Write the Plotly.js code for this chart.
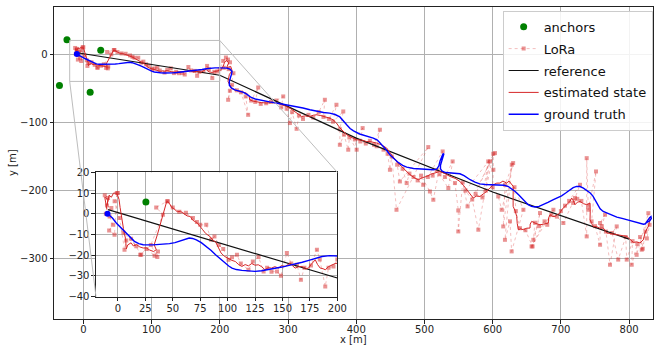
<!DOCTYPE html>
<html><head><meta charset="utf-8">
<script src="https://cdn.plot.ly/plotly-3.0.1.min.js"></script>
<style>html,body{margin:0;padding:0;background:#fff;}</style>
</head><body><div id="chart" style="width:654px;height:345px;"></div>
<script>
// ---------------- data ----------------
const anchorX = [-24, -35, 25.5, 10];
const anchorY = [21, -46, 5.7, -56];

const refX = [-9, 200, 400, 600, 800];
const refY = [2, -31, -123, -202, -271];

const gtX = [-9.5,-5,-1.5,3,7.6,11,15,19,23,32,40,47,52,56,61,65,68,71.5,76,80.5,85,89,93,97,101,104,108,113,119,125,131,137,143,149.5,155,161.6,168,174,180,186,193,200,
205,210,215,218,217,215,214,214,217,222,228,234,240,246,252,263,273,283,293,303,313,322,332,342,352,361,369,376,381,386,391,396,405,415,425,431,436,443,450,456,462,468,474,484,494,504,513,518,521,523,525,527,528.5,527.5,525,523.5,523.5,526,531,537,545,552,558,563,567,574,581,589,596,603,611,617,623,628,633,638,643,648,652,657,662,668,674,681,689,695,701,707,713,718,723,728,733,738,743,747,750,754,757.5,762,767,774,782,791,801,809,816,821,824,827,830,832,832.5,830,826];
const gtY = [0,-2,-4.4,-6.8,-9.3,-11.3,-13.3,-14.4,-14.9,-15,-14.8,-14.4,-13.9,-13.3,-12.3,-11.7,-11.9,-12.6,-13.9,-15.7,-17.7,-19.8,-21.6,-23.6,-25.2,-26.2,-26.9,-27.3,-27.6,-27.8,-27.5,-27,-26.4,-25.7,-25,-24.3,-23.4,-22.5,-21.5,-20.6,-20.2,-20.2,
-20.3,-20.5,-22,-25.4,-30,-35,-40,-45.5,-49.5,-52.3,-54,-55.6,-59,-63.5,-65.7,-68.4,-70,-71.7,-73.3,-75.3,-77.2,-79,-81.5,-84,-85.5,-86.5,-88.5,-92,-97,-103.5,-109,-112.5,-117,-120,-123,-126,-131,-139,-148,-154,-159,-163,-165.5,-167.5,-168.5,-169,-169.3,-168.5,-164,-156,-150,-146.5,-146,-149,-156,-163,-168,-171.5,-173.5,-174.2,-175,-175.3,-178,-181.5,-184,-187.5,-190,-191,-191.3,-191.4,-191.4,-192.2,-194,-197,-201.2,-206,-211,-216.5,-220.6,-223,-224,-223,-220.6,-217.2,-213.3,-210.5,-207.5,-203.5,-198.7,-195.5,-193.8,-194,-196.2,-199.5,-203.5,-208,-213.3,-220,-226.5,-230.5,-232.8,-235.8,-238.7,-241,-243.6,-246,-248.5,-249.2,-248.5,-243.5,-239.5,-238,-241,-244.5,-246.5];

const estX = [-10,-11,-12,-9,-10,-8,-6,-4,-1,1,2,3,4,5,6,7,7.6,9,12,14,17,20,23,26,29,32.5,35,33,36,38,40,41.5,43,44.5,47,49,51,54,57,60,63,66,68,71,74,77,80,84,87,89,91,94,97,101,104,107,110,113,116,119,122,125,128,131,134,137,140,143,146.4,149,152.5,155,157,159,161.6,165,167.7,171,173.7,176,179.9,182,184.4,187,189,192,195,198,201,
205,207,210,213,210,216,218,214,212,215,217,223,229.5,235,239,243,244,249,254,261,268.6,276,283.3,290,298,304,310,315,320,326,332,337,342,348,354,360,366,371,376,381,386,391,396,400.6,408,415,422,430,437,444.6,450,456.7,461,466.6,472,478.7,485,491,497,503.2,509,515.4,522.7,530,537.4,545,552,557,561.9,566,571.5,576,581.4,586,591.2,596,600.9,606,610.6,615,620.5,624,627,630.2,630,630,633,635.2,636,637.6,641,645,650,654.7,655,657.2,663,669.4,675,681.5,682,684,688,691.3,695,698.7,701,703.6,708,713.3,715.8,718,720.7,724,728,733,737.8,742.7,743,742.7,745,747.5,753,757,762.2,765,767.2,774,781.8,789,796.5,801,806.2,811,816,820.8,823.3,826,828.2,830,830.6];
const estY = [2,5,8,7,4,9,8,10,10,7,3,-1,-4,-7,-10,-12,-17,-15,-14,-15.5,-14.9,-16,-16.5,-16.5,-17.5,-18.2,-17.3,-15,-10,-6,-3,0,3,6,5,3,2.5,1,1.2,0,-1,-1.3,-3,-4,-5.5,-7.5,-9.5,-11,-13,-13.5,-16,-18.9,-20.5,-21.8,-22.5,-23,-24.5,-25.4,-24.5,-25.1,-24,-24.8,-24.6,-25.5,-27,-26,-26.2,-25.5,-26.2,-25,-25.4,-24.5,-23.8,-25,-26.2,-25.5,-25.4,-26.5,-26.2,-24.5,-22.2,-24.5,-26.2,-26.5,-27,-25.5,-24.6,-24,-23.8,
-18,-12,-9,-13,-20,-18,-24,-30,-40,-47,-50,-53,-54.8,-55.5,-57,-62,-67,-69,-70.3,-71,-71.7,-71,-71.7,-73.5,-76.7,-80,-84,-88,-91.4,-90.5,-91.4,-89.5,-88.9,-90,-91.4,-93.5,-96.2,-101,-108,-113,-118,-121,-123,-125.5,-126,-128,-128.5,-130.3,-133,-137.6,-145,-154.8,-160,-164.6,-170,-176.7,-181,-184,-181,-179.2,-176,-174.2,-171.9,-175,-179.2,-182,-186.5,-192,-198.7,-205,-210.8,-208,-208.5,-205,-201.2,-196,-191.4,-189,-188.9,-186,-188.9,-186,-190,-193.8,-205,-223,-230,-237.8,-248,-257.2,-256,-257.2,-255,-254.8,-249,-245,-248,-250,-249,-247.4,-240,-235.3,-238,-237.8,-235,-232.8,-228,-225.5,-220,-215.8,-210.8,-214,-220.6,-217,-215.8,-219,-220.6,-218.2,-230,-242.6,-248,-252.4,-253,-255,-254.8,-258,-262,-263,-264.6,-265,-267,-271,-275.8,-275,-276.7,-271.9,-262,-256,-252.4,-245,-238.7];

const loraX = [-12,-9,-10,-6,-11,-7.6,-4.6,-8,-3.1,-1,0,-3,1.5,6,7.6,5,16.7,12,21.2,20.3,26,33.4,36.5,35.9,30,41,34.9,44.7,45.6,50,56,62,68.4,72,75,80.5,85,88,92,96,100.8,104,108.5,112,119,123,128.2,132.8,136,140,145,148.6,154,158,163.2,166.8,170,176,181.4,184,189,192,196.5,200,
205,209,212,215,206,213,220,212.3,214.8,218,225,231,241.6,238,246,256.3,252,260,268,275,283,293,290,298,302.8,306,312.6,316,322,330,337,345,354,352,360,371,366,381,376,376,382,388.3,390,400.6,398,409.4,406,414,420,426,434.7,430,440,446,449.4,452,459,505.6,464,460,468,473.9,478,484,490,498.2,495,508,513,526.7,505,512,518,522,535,541.3,530,544.7,549.6,549.6,556,563.2,603.4,560,570,579,596,575,585,593.5,
590,600.9,601,600,608.2,613.2,630,618,615.5,628,618,625.4,627.8,645,632,634,640,648,658.5,669.4,659.6,662,668,676,657,689,680,686,694,703.6,720.7,700,706,712,728,718,724,730,737.8,737.8,740,740,751.5,745,750,757.4,757.4,764.7,760,766,772,781.8,775,784,795,796.5,805,803.8,812,811,828.2,818.5,816,820,824,830,826];
const loraY = [9,7.6,4,2.8,0,-1.3,-5.3,-8,-10.1,10,10,6,-2,-17.3,-12.9,-9,-15.7,-12,-19.8,-19.8,-17,-20.2,-18.2,-20.9,-15,-0.4,3.1,6,6,3,1,0.5,-2,-4,-5.3,-5.3,-12.5,-11,-15,-17,-22.2,-21,-19.8,-24,-27,-23,-20.9,-27.8,-26,-28,-27.8,-29.9,-18.9,-24,-24.6,-31.8,-26,-25,-17.3,-22,-35.1,-26,-25.4,-22,
-10,-5,-8,-12,-20,-22,-28,-66.9,-53.7,-45,-53,-56,-88.9,-62,-68,-48.9,-70,-73,-72,-70,-68,-62,-78,-80,-101,-85,-109.4,-90,-95,-89,-93,-85,-66.9,-92,-95,-74.2,-99,-84,-110,-132.8,-118,-140,-122,-140,-125,-108.4,-128,-131,-127,-133,-110.8,-135,-140,-146,-169.4,-150,-228,-136.2,-186.5,-162,-168,-188.9,-175,-180,-185,-191.4,-178,-201.2,-213.3,-142.6,-180,-178,-170,-176,-196.2,-157.2,-180,-188.9,-229,-259.7,-188,-223,-145,-200,-213,-257.2,-157.2,-205,-210,-157.2,
-200,-146,-169.4,-195,-208.5,-228,-159.6,-191.4,-252.4,-162,-272,-245,-289,-228,-195,-230,-255,-258,-281.7,-232.8,-272,-247,-252,-245,-281.7,-228,-250,-235,-238,-247.4,-210.8,-230,-222,-215,-191.4,-218,-212,-215,-267,-152.4,-222,-228,-171.9,-245,-252,-279.2,-247.4,-235.3,-252,-260,-308.5,-252.4,-262,-301,-268,-301,-274,-308.5,-278,-294,-233,-286.5,-268,-285,-260,-250,-270];

// axis settings
const mainXRange = [-43, 835];
const mainYRange = [-388, 69];
const insetXRange = [-20, 200];
const insetYRange = [-40, 20];
const insetXTicks = [0, 25, 50, 75, 100, 125, 150, 175, 200];
const insetYTicks = [20, 10, 0, -10, -20, -30, -40];
const insetDomX = [0.0701, 0.473];
const insetDomY = [0.0715, 0.47];

// ---------------- traces ----------------
const RED = '#d62728';
function mk(xa, ya, leg) {
  return [
    {x: anchorX, y: anchorY, mode: 'markers', type: 'scatter', name: 'anchors',
     marker: {color: '#008000', size: 7}, xaxis: xa, yaxis: ya, showlegend: leg, legendgroup: 'a'},
    {x: loraX, y: loraY, mode: 'lines+markers', type: 'scatter', name: 'LoRa',
     line: {color: 'rgba(214,39,40,0.3)', width: 1, dash: 'dot'},
     marker: {symbol: 'square', size: 4, color: 'rgba(214,39,40,0.5)', line: {width: 0}},
     xaxis: xa, yaxis: ya, showlegend: leg, legendgroup: 'b'},
    {x: refX, y: refY, mode: 'lines', type: 'scatter', name: 'reference',
     line: {color: '#111', width: 1.2}, xaxis: xa, yaxis: ya, showlegend: leg, legendgroup: 'c'},
    {x: estX, y: estY, mode: 'lines', type: 'scatter', name: 'estimated state',
     line: {color: RED, width: 1}, xaxis: xa, yaxis: ya, showlegend: leg, legendgroup: 'd'},
    {x: gtX, y: gtY, mode: 'lines', type: 'scatter', name: 'ground truth',
     line: {color: '#0000ff', width: 1.4}, xaxis: xa, yaxis: ya, showlegend: leg, legendgroup: 'e'},
    {x: [gtX[0]], y: [gtY[0]], mode: 'markers', type: 'scatter', name: 'start',
     marker: {color: '#0000ff', size: 6}, xaxis: xa, yaxis: ya, showlegend: false}
  ];
}
const data = mk('x', 'y', true).concat(mk('x2', 'y2', false));

// ---------------- layout ----------------
const FONT = 'DejaVu Sans, sans-serif';
const axisCommon = {
  showline: true, mirror: true, linecolor: '#222', linewidth: 1,
  showgrid: true, gridcolor: '#b0b0b0', gridwidth: 1, zeroline: false,
  ticks: 'outside', ticklen: 3.5, tickwidth: 1, tickcolor: '#222',
  tickfont: {family: FONT, size: 10, color: '#222'}
};
function lerp(r, f) { return r[0] + f * (r[1] - r[0]); }
const shapes = [
  {type: 'rect', xref: 'x', yref: 'y', x0: insetXRange[0], x1: insetXRange[1], y0: insetYRange[0], y1: insetYRange[1],
   line: {color: '#bdbdbd', width: 1}},
  {type: 'line', xref: 'x', yref: 'y', x0: insetXRange[0], y0: insetYRange[0],
   x1: lerp(mainXRange, insetDomX[0]), y1: lerp(mainYRange, insetDomY[0]), line: {color: '#bdbdbd', width: 1}},
  {type: 'line', xref: 'x', yref: 'y', x0: insetXRange[1], y0: insetYRange[1],
   x1: lerp(mainXRange, insetDomX[1]), y1: lerp(mainYRange, insetDomY[1]), line: {color: '#bdbdbd', width: 1}}
];

const layout = {
  width: 654, height: 345,
  margin: {l: 54, r: 1, t: 7, b: 26},
  paper_bgcolor: '#fff', plot_bgcolor: '#fff',
  font: {family: FONT, size: 10, color: '#222'},
  showlegend: true,
  xaxis: Object.assign({}, axisCommon, {range: mainXRange, dtick: 100, tick0: 0, domain: [0, 1], anchor: 'y',
    ticklabelstandoff: -3}),
  yaxis: Object.assign({}, axisCommon, {range: mainYRange, dtick: 100, tick0: 0, domain: [0, 1], anchor: 'x'}),
  xaxis2: Object.assign({}, axisCommon, {range: insetXRange, tickmode: 'array', tickvals: insetXTicks,
    domain: insetDomX, anchor: 'y2', ticklabelstandoff: -1}),
  yaxis2: Object.assign({}, axisCommon, {range: insetYRange, tickmode: 'array', tickvals: insetYTicks,
    domain: insetDomY, anchor: 'x2'}),
  legend: {x: 0.749, y: 0.988, xanchor: 'left', yanchor: 'top',
    bgcolor: 'rgba(255,255,255,0.85)', bordercolor: '#cccccc', borderwidth: 1,
    font: {family: FONT, size: 13, color: '#111'}, traceorder: 'grouped', tracegroupgap: 2},
  shapes: shapes,
  annotations: [
    {text: 'x [m]', xref: 'paper', yref: 'paper', x: 0.5, y: -0.066, xanchor: 'center', yanchor: 'middle',
     showarrow: false, font: {family: FONT, size: 10, color: '#222'}},
    {text: 'y [m]', xref: 'paper', yref: 'paper', x: -0.07, y: 0.5, xanchor: 'center', yanchor: 'middle',
     textangle: -90, showarrow: false, font: {family: FONT, size: 10, color: '#222'}}
  ],
  hovermode: false
};

Plotly.newPlot('chart', data, layout, {staticPlot: true, displayModeBar: false});
</script></body></html>
